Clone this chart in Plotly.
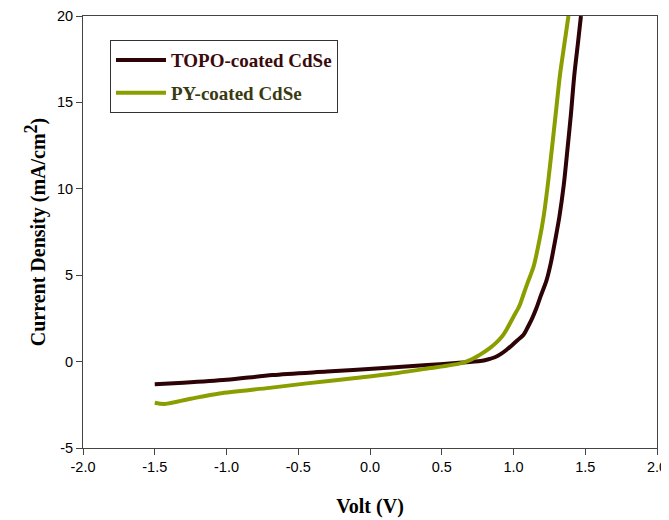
import plotly.graph_objects as go

topo_v = [-1.5, -1.3, -1.0, -0.68, -0.3, 0.07, 0.4, 0.6, 0.77, 0.82, 0.87, 0.91, 0.95, 0.99,
          1.03, 1.07, 1.10, 1.13, 1.16, 1.19, 1.23, 1.26, 1.29, 1.32, 1.35, 1.375, 1.40, 1.424,
          1.45, 1.47]
topo_j = [-1.31, -1.22, -1.05, -0.78, -0.58, -0.39, -0.2, -0.08, 0.03, 0.12, 0.25, 0.43, 0.67,
          0.95, 1.25, 1.55, 2.0, 2.5, 3.1, 3.8, 4.7, 5.7, 7.0, 8.4, 10.2, 12.2, 14.3, 16.6,
          18.5, 20]

py_v = [-1.5, -1.43, -1.25, -1.05, -0.7, -0.44, -0.1, 0.14, 0.4, 0.63, 0.7, 0.77, 0.83, 0.88,
        0.92, 0.95, 1.0, 1.04, 1.07, 1.1, 1.14, 1.18, 1.21, 1.24, 1.266, 1.295, 1.324, 1.355,
        1.383]
py_j = [-2.38, -2.45, -2.15, -1.84, -1.52, -1.26, -0.95, -0.72, -0.4, -0.1, 0.1, 0.42, 0.75,
        1.1, 1.45, 1.83, 2.6, 3.2, 3.9, 4.6, 5.5, 7.0, 8.4, 10.3, 12.2, 14.4, 16.6, 18.4, 20]

x_ticks = [-2.0, -1.5, -1.0, -0.5, 0.0, 0.5, 1.0, 1.5, 2.0]
y_ticks = [-5, 0, 5, 10, 15, 20]

topo_color = "#2e0306"
py_color = "#8a9e00"
serif = "Liberation Serif, Times New Roman"

fig = go.Figure()
fig.add_trace(go.Scatter(
    x=topo_v, y=topo_j, mode="lines", legendgroup="a",
    line=dict(color=topo_color, width=4, shape="spline", smoothing=0.8),
    name="<span style='color:#3a0a0c'><b>TOPO-coated CdSe</b></span>",
))
fig.add_trace(go.Scatter(
    x=py_v, y=py_j, mode="lines", legendgroup="b",
    line=dict(color=py_color, width=4, shape="spline", smoothing=0.8),
    name="<span style='color:#3a3a12'><b>PY-coated CdSe</b></span>",
))

# page body has an 8px margin; compensate so plot area lands at x 83-657, y 16-448
fig.update_layout(
    width=669, height=512,
    margin=dict(l=75, r=20, t=8, b=72),
    paper_bgcolor="white", plot_bgcolor="white",
    font=dict(family="Liberation Sans, Arial", size=14.5, color="black"),
    showlegend=True,
    legend=dict(
        x=0.047, y=0.944, xanchor="left", yanchor="top",
        bordercolor="#333333", borderwidth=1, bgcolor="white",
        font=dict(family=serif, size=19),
        itemwidth=50, tracegroupgap=5,
    ),
)
fig.update_xaxes(
    range=[-2.0, 2.0], tickvals=x_ticks, ticktext=[f"{v:.1f}" for v in x_ticks],
    showgrid=False, zeroline=False, showline=True, linecolor="#444444", linewidth=1,
    mirror=True, ticks="outside", ticklen=6, tickcolor="#444444", automargin=False,
    ticklabeloverflow="allow",
    title=dict(text="<b>Volt (V)</b>", standoff=24, font=dict(family=serif, size=20)),
)
fig.update_yaxes(
    range=[-5, 20], tickvals=y_ticks, ticktext=[str(v) for v in y_ticks],
    showgrid=False, zeroline=False, showline=True, linecolor="#444444", linewidth=1,
    mirror=True, ticks="outside", ticklen=6, tickcolor="#444444", automargin=False,
    ticklabeloverflow="allow",
    title=dict(text="<b>Current Density (mA/cm<sup><span style='font-size:18px'>2</span></sup>)</b>",
               standoff=5, font=dict(family=serif, size=20)),
)

fig.write_html("out.html")
